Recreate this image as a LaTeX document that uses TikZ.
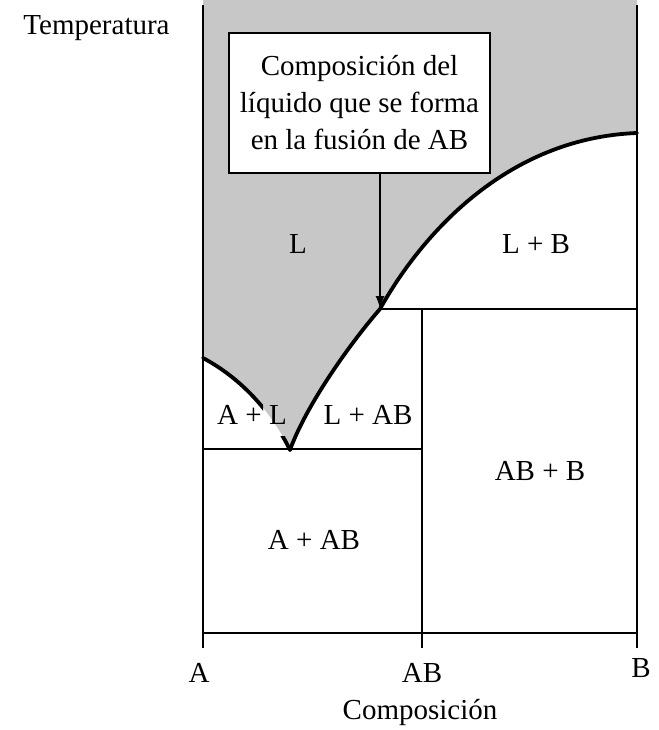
\documentclass[tikz,border=0pt]{standalone}
\usepackage{fontspec}
\setmainfont{Liberation Serif}
\usetikzlibrary{arrows.meta}
\begin{document}
\begin{tikzpicture}[x=1pt,y=-1pt,
  lbl/.style={anchor=base,inner sep=0pt,font=\fontsize{29}{37}\selectfont},
  axis/.style={line width=2.2pt},
  curve/.style={line width=3.8pt,line cap=round},
  callout/.style={draw,line width=2pt,fill=white,align=center,minimum width=261pt,minimum height=140pt,inner sep=0pt,font=\fontsize{29}{37}\selectfont},
]
\useasboundingbox (0,0) rectangle (658,730);
\definecolor{liq}{gray}{0.78}
\coordinate (S) at (203,358);
\coordinate (E) at (290,450);
\coordinate (P) at (380,309);
\coordinate (T) at (637,133);
% liquid region
\fill[liq] (203,0) -- (S) .. controls (235,375) and (268,405) .. (E)
  .. controls (305,408) and (347,347) .. (P)
  .. controls (420,237) and (505,138) .. (T)
  -- (637,0) -- cycle;
% axes and phase lines
\draw[axis] (203,5) -- (203,648);
\draw[axis] (637,5) -- (637,648);
\draw[axis] (203,633) -- (637,633);
\draw[axis] (203,449) -- (422,449);
\draw[axis] (P) -- (637,309);
\draw[axis] (422,309) -- (422,648);
% liquidus curves
\begin{scope}
\clip (0,0) -- (658,0) -- (658,730) -- (0,730) -- cycle
      (263,401) -- (263,436) -- (287,436) -- (287,401) -- cycle;
\draw[curve] (S) .. controls (235,375) and (268,405) .. (E);
\end{scope}
\draw[curve] (E) .. controls (305,408) and (347,347) .. (P)
  .. controls (420,237) and (505,138) .. (T);
% callout
\node[callout] (box) at (359.5,103) {Composición del\\líquido que se forma\\en la fusión de AB};
\draw[line width=1.8pt,-{Latex[length=13pt,width=9pt]}] (box.south -| P) -- (P);
% labels
\node[lbl] (ylabel) at (96.5,35) {Temperatura};
\node[lbl] (rL) at (298,253) {L};
\node[lbl] (rLB) at (536,253) {L + B};
\node[lbl] (rAL) at (252,424) {A + L};
\node[lbl] (rLAB) at (368,424) {L + AB};
\node[lbl] (rABB) at (540,480) {AB + B};
\node[lbl] (rAAB) at (314,549) {A + AB};
\node[lbl] (tA) at (199,682) {A};
\node[lbl] (tAB) at (422,682) {AB};
\node[lbl] (tB) at (641,677) {B};
\node[lbl] (xlabel) at (420,719) {Composición};
\end{tikzpicture}
\end{document}
